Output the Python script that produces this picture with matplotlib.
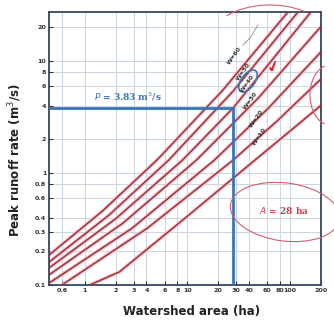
import matplotlib
matplotlib.use("Agg")
import matplotlib.pyplot as plt
from matplotlib.patches import Ellipse, Arc

# watershed area (ha) / peak runoff rate (m3/s), one list per curve
curve_area = [
    [0.45, 1.5, 5.07, 22, 95],
    [0.45, 1.72, 6.61, 28, 119],
    [0.45, 2.0, 9.0, 28.0, 159],
    [0.45, 2.35, 12.3, 49.6, 200],
    [0.45, 2.88, 18.4, 60.7, 200],
    [0.60, 4.1, 28.0, 74.8, 200],
    [1.12, 2.18, 9.0, 45.7, 200],
]
curve_rate = [
    [0.185, 0.46, 1.31, 5.47, 27.4],
    [0.160, 0.42, 1.31, 5.42, 27.4],
    [0.142, 0.39, 1.31, 3.83, 27.4],
    [0.123, 0.356, 1.31, 4.74, 20.4],
    [0.104, 0.32, 1.31, 3.76, 12.1],
    [0.100, 0.323, 1.31, 2.92, 6.93],
    [0.100, 0.131, 0.38, 1.31, 4.03],
]
curve_names = ["W=60", "W=50", "W=40", "W=30", "W=20", "W=10"]

area_ha = 28
peak_rate = 3.83

x_ticks = [0.6, 1, 2, 3, 4, 6, 8, 10, 20, 30, 40, 60, 80, 100, 200]
y_ticks = [0.1, 0.2, 0.3, 0.4, 0.6, 0.8, 1, 2, 4, 6, 8, 10, 20]

W, H = 334, 322


def px(x, y):
    # pixel position (from top-left) to figure fraction
    return x / W, 1 - y / H


fig = plt.figure(figsize=(W / 100, H / 100), dpi=100)
ax = fig.add_axes([49 / W, 1 - 285 / H, 272 / W, 273 / H])
ax.set_xscale("log")
ax.set_yscale("log")
ax.set_xlim(0.45, 200)
ax.set_ylim(0.1, 27.5)

for a, q in zip(curve_area, curve_rate):
    ax.plot(a, q, color="#f3c0c6", lw=2.6, solid_capstyle="butt", zorder=2)
    ax.plot(a, q, color="#9c2a36", lw=1.0, zorder=3)

ax.plot([0.45, area_ha], [peak_rate, peak_rate], color="#3a74b8", lw=2.0, zorder=4)
ax.plot([area_ha, area_ha], [0.1, peak_rate], color="#3a74b8", lw=2.0, zorder=4)

ax.set_xticks(x_ticks)
ax.set_xticklabels([f"{t:g}" for t in x_ticks])
ax.set_yticks(y_ticks)
ax.set_yticklabels([f"{t:g}" for t in y_ticks])
ax.minorticks_off()
ax.tick_params(direction="in", length=3, width=0.8, labelsize=4.6, pad=2,
               colors="#333333", labelcolor="#333333")
for lab in ax.get_xticklabels() + ax.get_yticklabels():
    lab.set_fontweight("bold")
ax.grid(True, color="#c9d5e2", lw=0.7, zorder=0)
for s in ax.spines.values():
    s.set_color("#34475d")
    s.set_linewidth(1.3)

fig.text(*px(15, 160), "Peak runoff rate (m$^3$/s)", rotation=90, ha="center",
         va="center", fontsize=8.5, fontweight="bold", color="#222222")
fig.text(*px(192, 311), "Watershed area (ha)", ha="center", va="center",
         fontsize=8.5, fontweight="bold", color="#222222")

fig.text(*px(128, 97), "$\\mathit{P}$ = 3.83 m$^3$/s", ha="center", va="center",
         fontsize=6.5, fontweight="bold", family="DejaVu Serif", color="#3a74b8")
fig.text(*px(284, 210), "$\\mathit{A}$ = 28 ha", ha="center", va="center",
         fontsize=6.5, fontweight="bold", family="DejaVu Serif", color="#c8404c")

label_px = [(235, 56), (244, 72), (248, 84), (251, 101), (257, 119), (260, 137)]
for name, (lx, ly) in zip(curve_names, label_px):
    fig.text(*px(lx, ly), name, rotation=55, ha="center", va="center",
             fontsize=4.5, fontweight="bold", color="#333333")

# hand-drawn marks on the photo
fig.patches.append(Ellipse(px(248, 81), 26 / W, 13 / H, angle=55, fill=False,
                           ec="#3a74b8", lw=1.2, transform=fig.transFigure))
fig.patches.append(Ellipse(px(285, 212), 110 / W, 58 / H, angle=-8, fill=False,
                           ec="#d0606c", lw=0.8, transform=fig.transFigure))
fig.patches.append(Arc(px(270, 40), 120 / W, 70 / H, theta1=40, theta2=150,
                       ec="#d0606c", lw=0.8, transform=fig.transFigure))
fig.patches.append(Arc(px(330, 95), 40 / W, 60 / H, theta1=100, theta2=260,
                       ec="#d0606c", lw=0.8, transform=fig.transFigure))
fig.lines.append(plt.Line2D([258 / W, 250 / W, 243 / W], [1 - 25 / H, 1 - 38 / H, 1 - 45 / H],
                            color="#888888", lw=0.6, transform=fig.transFigure))
fig.text(*px(273, 67), "\u2714", ha="center", va="center", fontsize=11,
         color="#e02030", rotation=20)

fig.savefig("out.png", dpi=100)
